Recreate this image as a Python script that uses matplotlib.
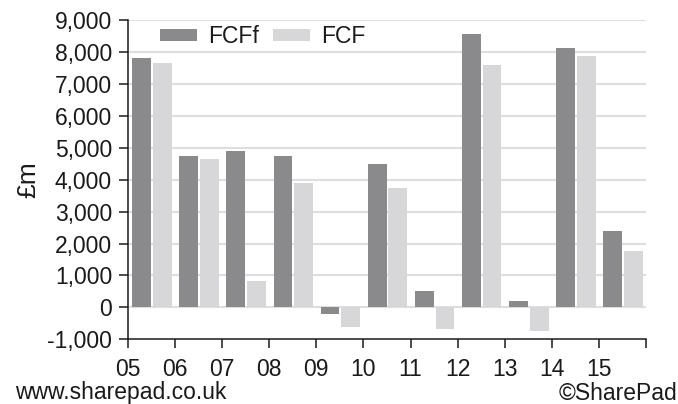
import matplotlib
matplotlib.use("Agg")
import matplotlib.pyplot as plt
import numpy as np

plt.rcParams['font.family'] = ['Liberation Sans', 'DejaVu Sans']

# Fiscal years (start of each period) and free cash flow figures, £m
years = ["05", "06", "07", "08", "09", "10", "11", "12", "13", "14", "15"]
fcff = [7800, 4750, 4900, 4750, -200, 4480, 500, 8560, 200, 8130, 2400]
fcf = [7650, 4650, 830, 3880, -600, 3730, -680, 7600, -730, 7870, 1770]

dark = "#8a8a8c"
light = "#d7d7d9"
grid_col = "#dedede"

fig = plt.figure(figsize=(6.78, 4.04), dpi=100)
ax = fig.add_axes([128 / 678, 1 - 339.3 / 404, 518 / 678, 319.3 / 404])

x = np.arange(len(years))
width = 0.40
ax.bar(x + 0.29, fcff, width=width, color=dark, label="FCFf", zorder=3)
ax.bar(x + 0.73, fcf, width=width, color=light, label="FCF", zorder=3)

ax.set_xlim(0, len(years))
ax.set_ylim(-1000, 9000)

yt = np.arange(-1000, 9001, 1000)
ax.set_yticks(yt)
ax.set_yticklabels([f"{v:,}" for v in yt])
for v in yt[1:]:
    ax.axhline(v, color=grid_col, lw=1.5, zorder=1)

ax.set_xticks(np.arange(len(years) + 1))
ax.set_xticklabels(years + [""])

for s in ("top", "right"):
    ax.spines[s].set_visible(False)
for s in ("left", "bottom"):
    ax.spines[s].set_linewidth(1.1)
    ax.spines[s].set_color("#1a1a1a")

ax.tick_params(axis="both", direction="out", length=6.5, width=1.1,
               color="#1a1a1a", labelsize=16.5, labelcolor="#1a1a1a")
ax.tick_params(axis="y", pad=5)
ax.tick_params(axis="x", pad=7)

leg = ax.legend(loc="center left", bbox_to_anchor=(0.062, 0.947), ncol=2,
                frameon=False, fontsize=16.5, handlelength=1.6,
                handleheight=0.42, handletextpad=0.5, columnspacing=0.6,
                borderpad=0, borderaxespad=0)
for t in leg.get_texts():
    t.set_color("#1a1a1a")

fig.text(28 / 678, 1 - 180 / 404, "£m", rotation=90, ha="center",
         va="center", fontsize=19, color="#1a1a1a")
fig.text(15 / 678, 1 - 393 / 404, "www.sharepad.co.uk", ha="left",
         va="center", fontsize=16.5, color="#1a1a1a")
fig.text(677 / 678, 1 - 393 / 404, "©SharePad", ha="right",
         va="center", fontsize=16.5, color="#1a1a1a")

fig.savefig("out.png", dpi=100, facecolor="white")
